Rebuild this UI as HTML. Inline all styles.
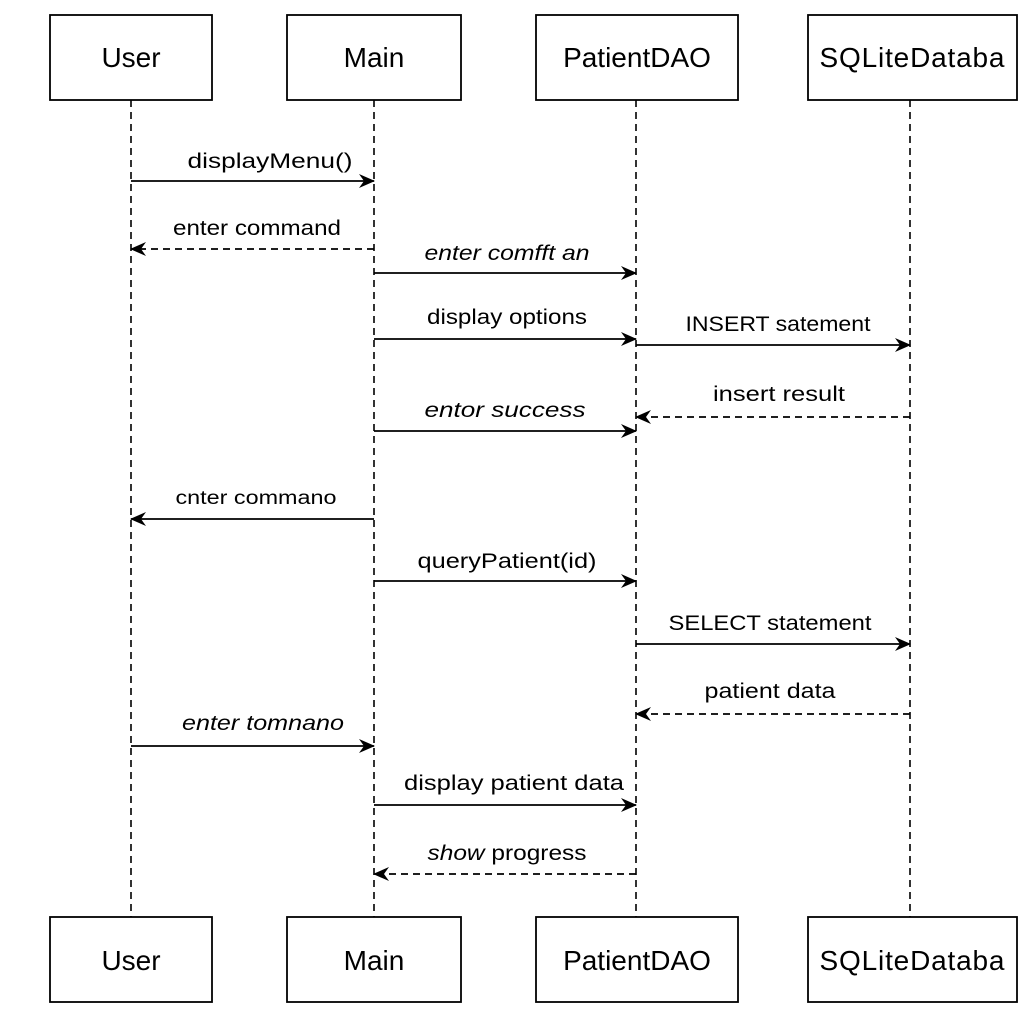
<!DOCTYPE html>
<html><head><style>body{margin:0;background:#fff}svg{display:block}text{font-family:"Liberation Sans",sans-serif;fill:#000}</style></head><body>
<svg width="1024" height="1024" viewBox="0 0 1024 1024" xmlns="http://www.w3.org/2000/svg">
<defs>
<marker id="a" markerWidth="16" markerHeight="14" refX="15" refY="7" orient="auto" markerUnits="userSpaceOnUse">
<path d="M0,0 L16,7 L0,14 L5,7 Z" fill="#000"/></marker>
</defs>
<g stroke="#000" stroke-width="1.6" stroke-dasharray="7,5">
<line x1="131" y1="100" x2="131" y2="917"/>
<line x1="374" y1="100" x2="374" y2="917"/>
<line x1="636" y1="100" x2="636" y2="917"/>
<line x1="910" y1="100" x2="910" y2="917"/>
</g>
<g fill="#fff" stroke="#000" stroke-width="1.8">
<rect x="50" y="15" width="162" height="85"/><rect x="287" y="15" width="174" height="85"/>
<rect x="536" y="15" width="202" height="85"/><rect x="808" y="15" width="209" height="85"/>
<rect x="50" y="917" width="162" height="85"/><rect x="287" y="917" width="174" height="85"/>
<rect x="536" y="917" width="202" height="85"/><rect x="808" y="917" width="209" height="85"/>
</g>
<g font-size="28" text-anchor="middle">
<text x="131" y="67">User</text><text x="374" y="67">Main</text><text x="637" y="67">PatientDAO</text><text x="912" y="67" textLength="185">SQLiteDataba</text>
<text x="131" y="970">User</text><text x="374" y="970">Main</text><text x="637" y="970">PatientDAO</text><text x="912" y="970" textLength="185">SQLiteDataba</text>
</g>
<g stroke="#000" stroke-width="1.8" fill="none" marker-end="url(#a)">
<line x1="131" y1="181" x2="374" y2="181"/>
<line x1="374" y1="249" x2="131" y2="249" stroke-dasharray="7,5"/>
<line x1="374" y1="273" x2="636" y2="273"/>
<line x1="374" y1="339" x2="636" y2="339"/>
<line x1="636" y1="345" x2="910" y2="345"/>
<line x1="910" y1="417" x2="636" y2="417" stroke-dasharray="7,5"/>
<line x1="374" y1="431" x2="636" y2="431"/>
<line x1="374" y1="519" x2="131" y2="519"/>
<line x1="374" y1="581" x2="636" y2="581"/>
<line x1="636" y1="644" x2="910" y2="644"/>
<line x1="910" y1="714" x2="636" y2="714" stroke-dasharray="7,5"/>
<line x1="131" y1="746" x2="374" y2="746"/>
<line x1="374" y1="805" x2="636" y2="805"/>
<line x1="636" y1="874" x2="374" y2="874" stroke-dasharray="7,5"/>
</g>
<g font-size="21" text-anchor="middle" lengthAdjust="spacingAndGlyphs">
<text x="270" y="168" textLength="165" lengthAdjust="spacingAndGlyphs">displayMenu()</text>
<text x="257" y="235" textLength="168" lengthAdjust="spacingAndGlyphs">enter command</text>
<text x="507" y="260" font-style="italic" textLength="165" lengthAdjust="spacingAndGlyphs">enter comfft an</text>
<text x="507" y="324" textLength="160" lengthAdjust="spacingAndGlyphs">display options</text>
<text x="778" y="331" textLength="185" lengthAdjust="spacingAndGlyphs">INSERT satement</text>
<text x="779" y="401" textLength="132" lengthAdjust="spacingAndGlyphs">insert  result</text>
<text x="505" y="417" font-style="italic" textLength="161" lengthAdjust="spacingAndGlyphs">entor success</text>
<text x="256" y="504" font-size="19" textLength="161" lengthAdjust="spacingAndGlyphs">cnter commano</text>
<text x="507" y="568" textLength="179" lengthAdjust="spacingAndGlyphs">queryPatient(id)</text>
<text x="770" y="630" textLength="203" lengthAdjust="spacingAndGlyphs">SELECT statement</text>
<text x="770" y="698" textLength="131" lengthAdjust="spacingAndGlyphs">patient data</text>
<text x="263" y="730" font-style="italic" textLength="162" lengthAdjust="spacingAndGlyphs">enter tomnano</text>
<text x="514" y="790" textLength="220" lengthAdjust="spacingAndGlyphs">display  patient  data</text>
<text x="507" y="860" textLength="159" lengthAdjust="spacingAndGlyphs"><tspan font-style="italic">show</tspan> progress</text>
</g>
</svg>
</body></html>
